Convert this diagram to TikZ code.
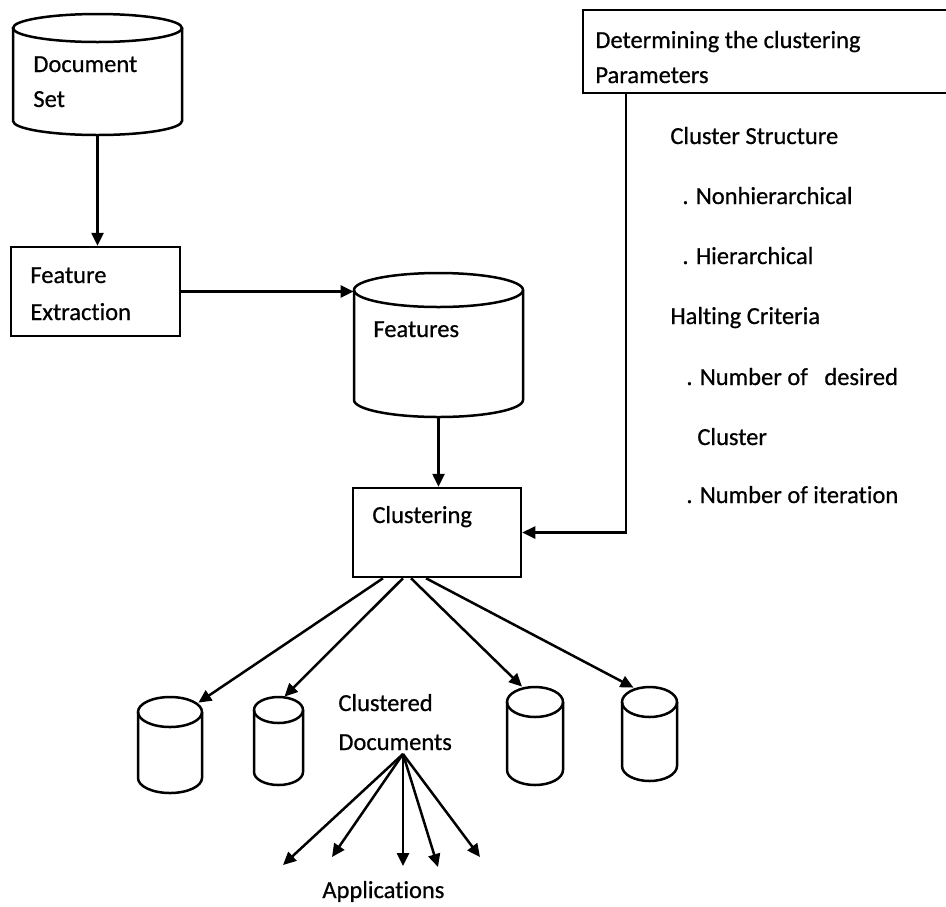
\documentclass[tikz,border=0pt]{standalone}
\usepackage{fontspec}
\setmainfont[Ligatures=NoCommon, FakeBold=0.6]{Carlito}
\usetikzlibrary{arrows.meta,calc}

\newcommand\txtsize{\fontsize{12.25pt}{14pt}\selectfont}

% \drum{name}{cx}{y of top ellipse}{y of bottom ellipse}{rx}{ry}
\newcommand\drum[6]{%
  \node[inner sep=0pt, minimum width=#5pt,
        minimum height={(#4-#3)*0.5pt+#6pt}] (#1) at (#2,{(#3+#4)/2}) {};
  \draw[ln] (#2,#3) ellipse [x radius=#5*0.5pt, y radius=#6*0.5pt];
  \draw[ln] ({#2-#5},#3) -- ({#2-#5},#4)
    arc[start angle=180, end angle=360, x radius=#5*0.5pt, y radius=#6*0.5pt]
    -- ({#2+#5},#3);
}

\tikzset{
  ln/.style={line width=1.25pt},
  arr/.style={ln, -{Triangle[length=6.5pt,width=6pt]}},
  box/.style={draw, ln, inner sep=0pt},
  lbl/.style={anchor=base west, inner sep=0pt, font=\txtsize},
}

\begin{document}
\begin{tikzpicture}[x=0.5pt, y=-0.5pt]
\useasboundingbox (0,0) rectangle (946,906);
\fill[white] (0,0) rectangle (946,906);

% storage drums
\drum{ds}{97.5}{28}{121}{84.5}{14}
\drum{feat}{438.5}{290}{400}{84.5}{17}
\drum{c1}{170}{712}{778}{32}{15}
\drum{c2}{278.5}{710}{772}{24.5}{13}
\drum{c3}{535}{702}{770}{28}{15}
\drum{c4}{649.5}{702}{766}{27.5}{15}

% process boxes
\node[box, minimum width=84.5pt, minimum height=44.5pt] (fe) at (95.5,291.5) {};
\node[box, minimum width=84pt, minimum height=44.5pt] (cl) at (437,532.5) {};
\node[box, minimum width=184.5pt, minimum height=41.5pt] (par) at (767.5,51.5) {};

% texts
\node[lbl] (tds1) at (33,72) {Document};
\node[lbl] (tds2) at (33,107) {Set};
\node[lbl] (tfe1) at (30,283) {Feature};
\node[lbl] (tfe2) at (30,320) {Extraction};
\node[lbl] (tfeat) at (373,337) {Features};
\node[lbl] (tcl) at (372,523) {Clustering};
\node[lbl] (tpar1) at (595,48) {Determining the clustering};
\node[lbl] (tpar2) at (595,83) {Parameters};
\node[lbl] (p1) at (670,144) {Cluster Structure};
\node[lbl] (p2) at (682,204) {. Nonhierarchical};
\node[lbl] (p3) at (682,264) {. Hierarchical};
\node[lbl] (p4) at (670,324) {Halting Criteria};
\node[lbl] (p5) at (686,385) {. Number of~~~desired};
\node[lbl] (p6) at (697,445) {Cluster};
\node[lbl] (p7) at (686,503) {. Number of iteration};
\node[lbl] (tcd1) at (338,711) {Clustered};
\node[lbl] (tcd2) at (338,750) {Documents};
\node[lbl] (tapp) at (322,898) {Applications};

% main flow
\draw[arr] (ds.south) -- (ds.south |- fe.north);
\draw[arr] (fe.east) -- (fe.east -| feat.west);
\draw[arr] (feat.south) -- (feat.south |- cl.north);
\coordinate (pp) at ($(par.south west)+(44,0)$);
\draw[arr] (pp) |- (cl.east);

% clustering into documents
\draw[arr] ($(cl.south)+(-54,0)$) -- ($(c1.north east)+(-4,6)$);
\draw[arr] ($(cl.south)+(-34,0)$) -- ($(c2.north)+(6,0)$);
\draw[arr] ($(cl.south)+(-26,0)$) -- ($(c3.north)+(-13,0)$);
\draw[arr] ($(cl.south)+(-11,0)$) -- ($(c4.north)+(-16,1)$);

% fan-out to applications
\coordinate (hub) at (403,754);
\coordinate (a1) at (283,865);
\coordinate (a2) at (332,857);
\coordinate (a3) at (403,866);
\coordinate (a4) at (438,867);
\coordinate (a5) at (480,857);
\foreach \t in {a1,a2,a3,a4,a5} \draw[arr] (hub) -- (\t);
\end{tikzpicture}
\end{document}
